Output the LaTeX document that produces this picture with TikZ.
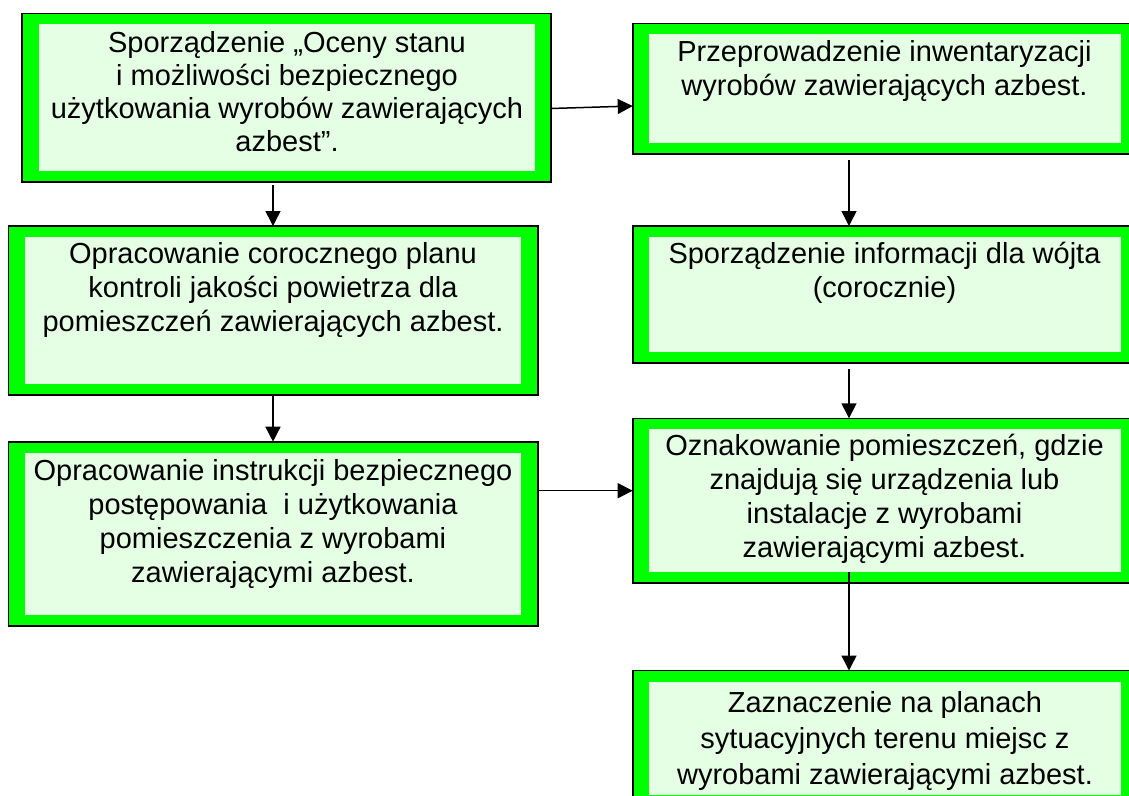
\documentclass[tikz,border=0pt]{standalone}
\usepackage{fontspec}
\setmainfont{Liberation Sans}
\usetikzlibrary{arrows.meta,calc}
\definecolor{frameg}{RGB}{0,255,0}
\definecolor{innerg}{RGB}{228,255,228}
\tikzset{
  box/.style={draw=black, line width=1.6pt, fill=frameg, inner sep=0pt, outer sep=0pt, anchor=north west,
    path picture={\fill[innerg] ([xshift=16.5pt,yshift=-11pt]path picture bounding box.north west) rectangle ([xshift=-16.5pt,yshift=11pt]path picture bounding box.south east);}},
  txt/.style={anchor=north, inner sep=0pt, align=center, font=\fontsize{29}{34}\selectfont},
  arr/.style={line width=1.5pt, -{Triangle[length=15pt,width=15pt]}}
}
\newcommand{\fstrut}{\rule{0pt}{28pt}}
\begin{document}
\begin{tikzpicture}[x=1pt,y=-1pt]
\useasboundingbox (0,0) rectangle (1129,795);
\clip (0,0) rectangle (1129,795);
\coordinate (cL) at (273,0);
\coordinate (cR) at (849,0);
% boxes
\node[box, minimum width=529pt, minimum height=168.7pt] (b1) at (22,13.3) {};
\node[box, minimum width=505pt, minimum height=130.7pt] (b2) at (632.7,23.3) {};
\node[box, minimum width=529.4pt, minimum height=169pt] (b3) at (8.3,226) {};
\node[box, minimum width=505pt, minimum height=137pt] (b4) at (632.7,226) {};
\node[box, minimum width=529.2pt, minimum height=184.3pt] (b5) at (8.5,441.7) {};
\node[box, minimum width=505pt, minimum height=164.7pt] (b6) at (632.7,418.3) {};
\node[box, minimum width=505pt, minimum height=135pt] (b7) at (632.7,670.5) {};
% texts
\node[txt, font=\fontsize{29}{33}\selectfont] (t1) at (287,24.7) {\fstrut Sporządzenie „Oceny stanu\\ i możliwości bezpiecznego\\ użytkowania wyrobów zawierających\\ azbest”.};
\node[txt] (t2) at (884.5,33.7) {\fstrut Przeprowadzenie inwentaryzacji\\ wyrobów zawierających azbest.};
\node[txt] (t3) at (273,235.3) {\fstrut Opracowanie corocznego planu\\ kontroli jakości powietrza dla\\ pomieszczeń zawierających azbest.};
\node[txt] (t4) at (884.5,235.3) {\fstrut Sporządzenie informacji dla wójta\\ (corocznie)};
\node[txt] (t5) at (273,452) {\fstrut Opracowanie instrukcji bezpiecznego\\ postępowania\ \ i użytkowania\\ pomieszczenia z wyrobami\\ zawierającymi azbest.};
\node[txt] (t6) at (884.5,427) {\fstrut Oznakowanie pomieszczeń, gdzie\\ znajdują się urządzenia lub\\ instalacje z wyrobami\\ zawierającymi azbest.};
\node[txt, font=\fontsize{29}{36}\selectfont] (t7) at (885,684.3) {\fstrut Zaznaczenie na planach\\ sytuacyjnych terenu miejsc z\\ wyrobami zawierającymi azbest.};
% connectors
\draw[arr] (b1.east |- 0,108.5) -- (b2.west |- 0,106);
\draw[arr] ($(b1.south -| cL)+(0,3)$) -- (b3.north -| cL);
\draw[arr] (b3.south -| cL) -- (b5.north -| cL);
\draw[arr] (b5.east |- 0,490.7) -- (b6.west |- 0,490.7);
\draw[arr] ($(b2.south -| cR)+(0,6)$) -- (b4.north -| cR);
\draw[arr] ($(b4.south -| cR)+(0,6)$) -- (b6.north -| cR);
\draw[arr] ($(b6.south -| cR)+(0,-11)$) -- (b7.north -| cR);
\end{tikzpicture}
\end{document}
